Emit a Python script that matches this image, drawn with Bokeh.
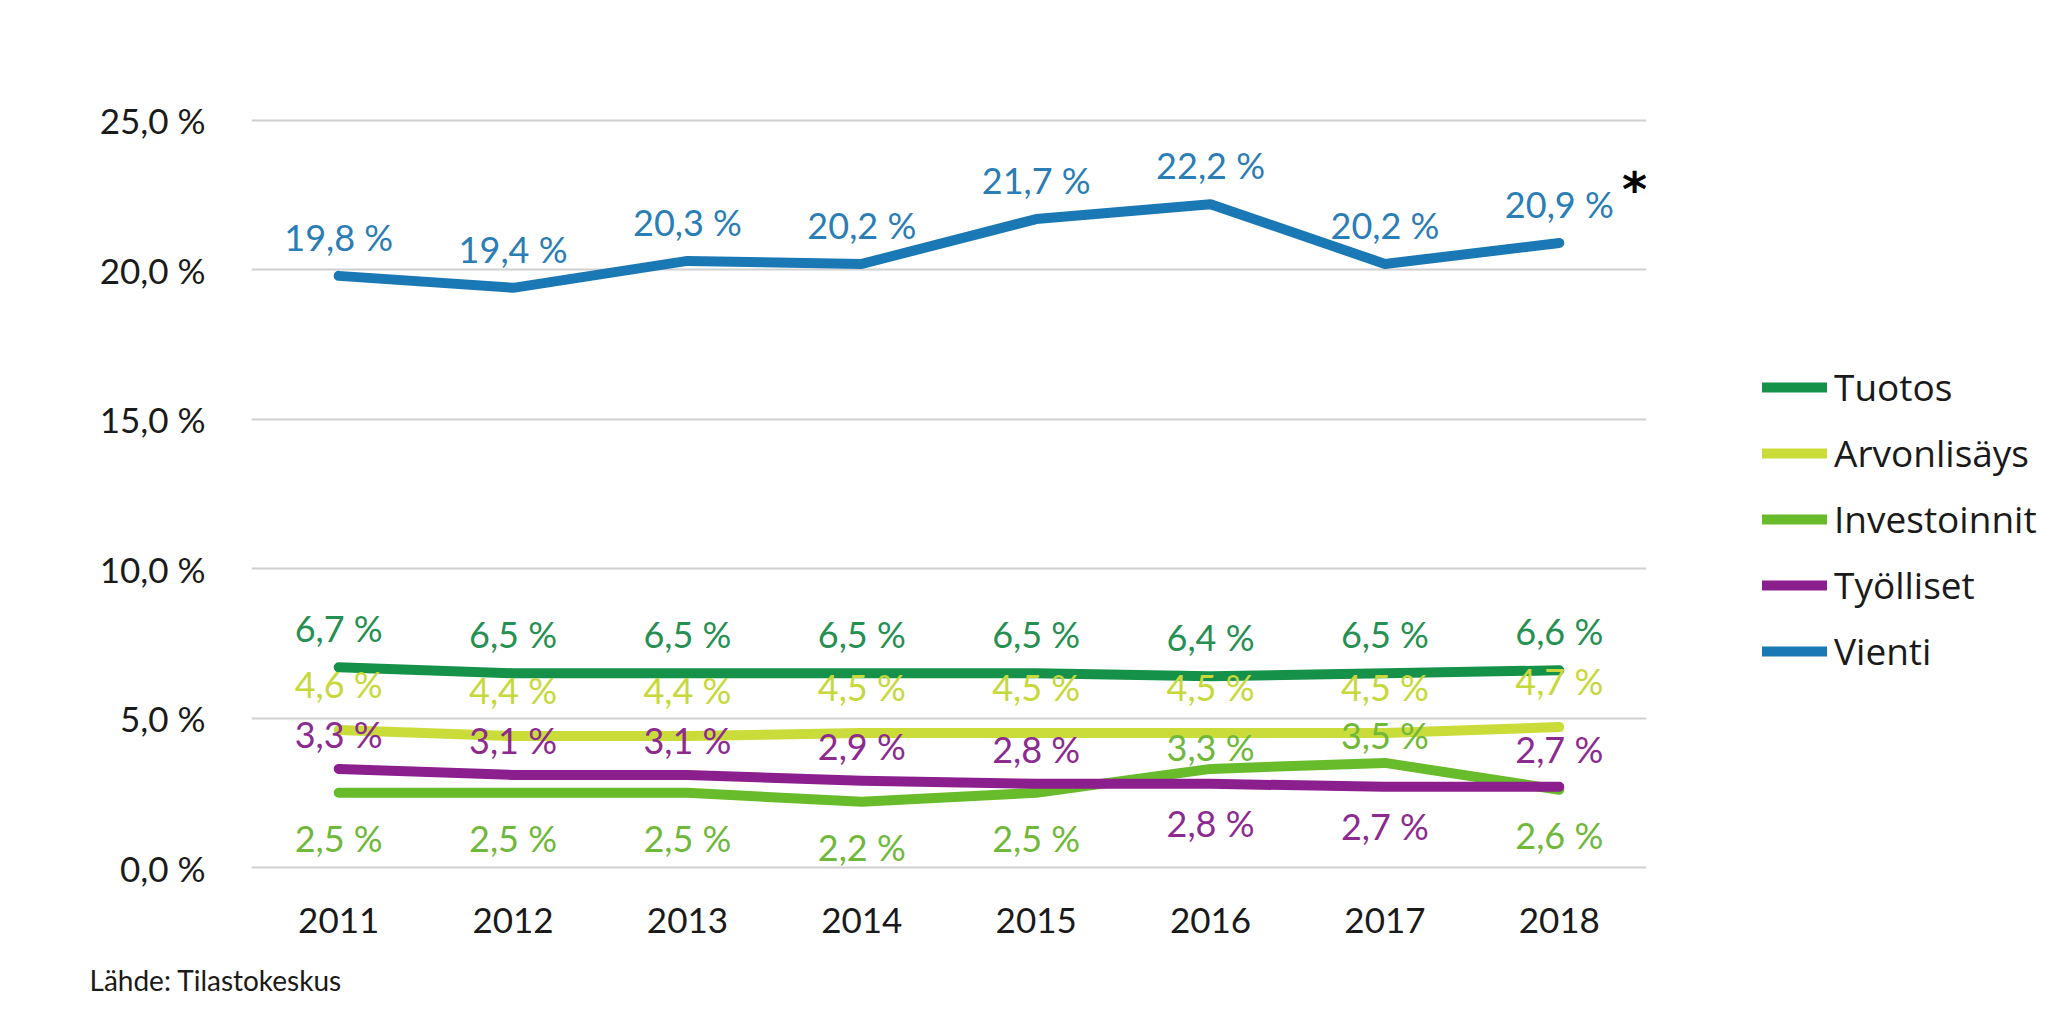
from bokeh.plotting import figure
from bokeh.models import FactorRange, FixedTicker, Legend, LegendItem, Label, ColumnDataSource, Title, Range1d
from bokeh.embed import file_html
from bokeh.resources import INLINE
from bokeh.core.properties import value

years = ["2011", "2012", "2013", "2014", "2015", "2016", "2017", "2018"]
tuotos = [6.7, 6.5, 6.5, 6.5, 6.5, 6.4, 6.5, 6.6]
arvonlisays = [4.6, 4.4, 4.4, 4.5, 4.5, 4.5, 4.5, 4.7]
investoinnit = [2.5, 2.5, 2.5, 2.2, 2.5, 3.3, 3.5, 2.6]
tyolliset = [3.3, 3.1, 3.1, 2.9, 2.8, 2.8, 2.7, 2.7]
vienti = [19.8, 19.4, 20.3, 20.2, 21.7, 22.2, 20.2, 20.9]
y_ticks = [0, 5, 10, 15, 20, 25]
y_tick_labels = ["0,0 %", "5,0 %", "10,0 %", "15,0 %", "20,0 %", "25,0 %"]
source_text = "Lähde: Tilastokeskus"

# label placement (screen px offsets), styling only
tuotos_off = [-39] * 8
arvo_off = [-46] * 8
inv_off = [45, 45, 45, 45, 45, -22, -28, 45]
tyo_off = [-35, -35, -35, -35, -35, 39, 39, -38]
vienti_off = [-39] * 8

W, H = 2054, 1030
FL, FR, FT, FB = 251, 1646, 117, 870

p = figure(width=W, height=H, frame_width=FR - FL, frame_height=FB - FT,
           x_range=FactorRange(factors=years, range_padding=0),
           y_range=Range1d(-0.1, 25.1), output_backend="svg", toolbar_location=None,
           min_border_left=FL, min_border_right=W - FR, min_border_top=FT,
           min_border_bottom=H - FB)
p.outline_line_color = None
p.background_fill_color = "white"
p.border_fill_color = "white"

p.xgrid.grid_line_color = None
p.ygrid.grid_line_color = "#d0d0d0"
p.ygrid.grid_line_width = 2
p.yaxis.ticker = FixedTicker(ticks=y_ticks)
p.yaxis.major_label_overrides = {t: l for t, l in zip(y_ticks, y_tick_labels)}
for ax in (p.xaxis, p.yaxis):
    ax.axis_line_color = None
    ax.major_tick_line_color = None
    ax.minor_tick_line_color = None
    ax.major_label_text_font = "Lato"
    ax.major_label_text_font_size = "35px"
    ax.major_label_text_color = "#1a1a1a"
p.yaxis.major_label_standoff = 40
p.xaxis.major_label_standoff = 31

series = [
    ("Vienti", vienti, "#1a78b4", "#2a7db5", vienti_off),
    ("Tuotos", tuotos, "#16914a", "#259051", tuotos_off),
    ("Arvonlisäys", arvonlisays, "#c9dc3a", "#c6d83a", arvo_off),
    ("Investoinnit", investoinnit, "#68bb2a", "#6fb83a", inv_off),
    ("Työlliset", tyolliset, "#8b1f8e", "#8c2a90", tyo_off),
]

renderers = {}
for name, vals, lc, tc, offs in series:
    r = p.line(years, vals, line_color=lc, line_width=10, line_cap="round", line_join="round")
    renderers[name] = r
    src = ColumnDataSource(dict(x=years, y=vals,
                                t=[f"{v:.1f}".replace(".", ",") + " %" for v in vals],
                                off=offs))
    p.text(x="x", y="y", text="t", y_offset="off", source=src, text_color=tc,
           text_font=value("Lato"), text_font_size="36px", text_align="center",
           text_baseline="middle")

legend_order = ["Tuotos", "Arvonlisäys", "Investoinnit", "Työlliset", "Vienti"]
legend = Legend(items=[LegendItem(label=n, renderers=[renderers[n]]) for n in legend_order],
                location=(1762 - FR, FB - 676), orientation="vertical")
legend.border_line_color = None
legend.background_fill_alpha = 0
legend.padding = 0
legend.margin = 0
legend.spacing = 15
legend.glyph_width = 65
legend.glyph_height = 30
legend.label_height = 30
legend.label_standoff = 7
legend.label_text_font = "Open Sans"
legend.label_text_font_size = "37px"
legend.label_text_color = "#1a1a1a"
legend.label_text_baseline = "middle"
p.add_layout(legend, "right")

p.add_layout(Label(x=8.0, y=22.7, x_offset=-12, text="*", text_font="DejaVu Sans",
                   text_font_size="48px", text_font_style="bold", text_color="#000000",
                   text_align="center", text_baseline="middle"))

src_title = Title(text=source_text, align="left", offset=89 - FL, standoff=50,
                  text_font="Lato", text_font_size="28px", text_font_style="normal",
                  text_color="#1a1a1a")
p.add_layout(src_title, "below")

open("out.html", "w").write(file_html(p, INLINE))
